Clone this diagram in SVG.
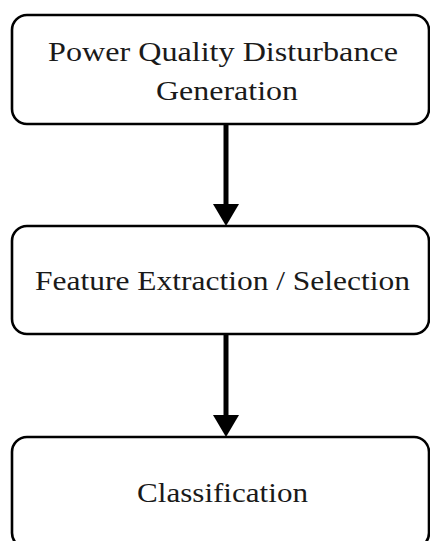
<svg xmlns="http://www.w3.org/2000/svg" width="430" height="541" viewBox="0 0 430 541">
<style>
.box{fill:#fff;stroke:#000;stroke-width:2.6}
.t{font-family:"Liberation Serif","Times New Roman",serif;font-size:27px;fill:#1a1a1a;text-anchor:middle}
.ln{stroke:#000;stroke-width:5;fill:none}
.ah{fill:#000}
</style>
<rect width="430" height="541" fill="#fff"/>
<g id="connectors">
<line class="ln" x1="226" y1="124" x2="226" y2="206"/>
<polygon class="ah" points="213,204 239,204 226,226"/>
<line class="ln" x1="226" y1="334" x2="226" y2="417"/>
<polygon class="ah" points="213,415 239,415 226,437"/>
</g>
<g id="node1">
<rect class="box" x="12" y="15" width="417" height="109" rx="15"/>
<text class="t" x="223" y="61" textLength="350" lengthAdjust="spacingAndGlyphs">Power Quality Disturbance</text>
<text class="t" x="227" y="100" textLength="142" lengthAdjust="spacingAndGlyphs">Generation</text>
</g>
<g id="node2">
<rect class="box" x="12" y="226" width="417" height="108" rx="15"/>
<text class="t" x="222.5" y="290" textLength="375" lengthAdjust="spacingAndGlyphs">Feature Extraction / Selection</text>
</g>
<g id="node3">
<rect class="box" x="12" y="437" width="417" height="111" rx="15"/>
<text class="t" x="222.5" y="502" textLength="171" lengthAdjust="spacingAndGlyphs">Classification</text>
</g>
</svg>
